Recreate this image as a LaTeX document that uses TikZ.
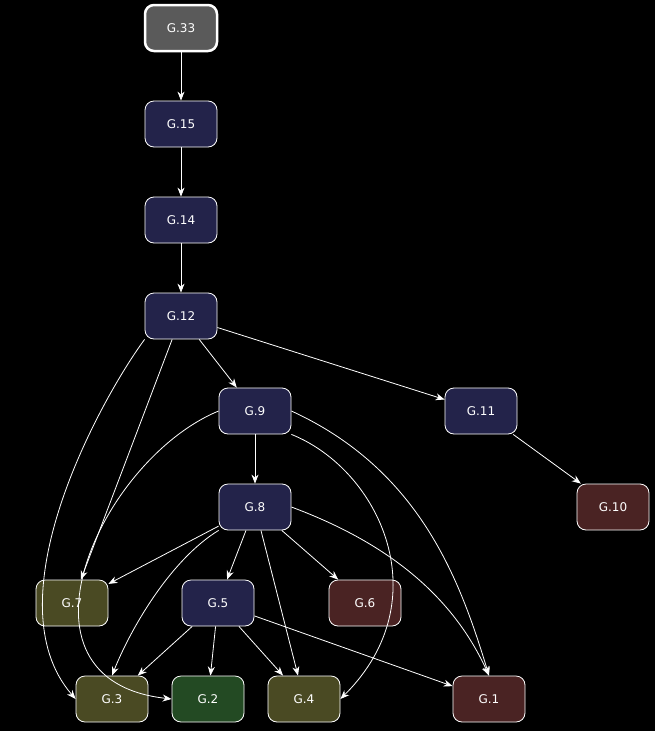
\documentclass[tikz,border=0pt]{standalone}
\usepackage{fontspec}
\setmainfont{DejaVu Sans}
\usetikzlibrary{arrows.meta}
\definecolor{navy}{HTML}{23234A}
\definecolor{dred}{HTML}{4A2323}
\definecolor{olive}{HTML}{4A4A23}
\definecolor{dgreen}{HTML}{234A23}
\definecolor{grey}{HTML}{5A5A5A}
\begin{document}
\begin{tikzpicture}[x=1pt,y=-1pt,
 nd/.style={draw=white,rounded corners=9pt,minimum width=72pt,minimum height=46pt,text=white,font=\fontsize{12}{14}\selectfont,line width=0.8pt},
 ed/.style={draw=white,line width=0.8pt,-{Stealth[length=9pt,width=7pt]}}]
\fill[black] (0,0) rectangle (655,731);
\useasboundingbox (0,0) rectangle (655,731);
\node[nd,fill=grey,line width=2.5pt] (g33) at (181,28) {G.33};
\node[nd,fill=navy] (g15) at (181,124) {G.15};
\node[nd,fill=navy] (g14) at (181,220) {G.14};
\node[nd,fill=navy] (g12) at (181,316) {G.12};
\node[nd,fill=navy] (g9) at (255,411) {G.9};
\node[nd,fill=navy] (g11) at (481,411) {G.11};
\node[nd,fill=dred] (g10) at (613,507) {G.10};
\node[nd,fill=navy] (g8) at (255,507) {G.8};
\node[nd,fill=olive] (g7) at (72,603) {G.7};
\node[nd,fill=navy] (g5) at (218,603) {G.5};
\node[nd,fill=dred] (g6) at (365,603) {G.6};
\node[nd,fill=olive] (g3) at (112,699) {G.3};
\node[nd,fill=dgreen] (g2) at (208,699) {G.2};
\node[nd,fill=olive] (g4) at (304,699) {G.4};
\node[nd,fill=dred] (g1) at (489,699) {G.1};
\draw[ed] (g33)--(g15);
\draw[ed] (g15)--(g14);
\draw[ed] (g14)--(g12);
\draw[ed] (g12)--(g9);
\draw[ed] (g12)--(g11);
\draw[ed] (g12)--(g7);
\draw[ed] (g12.south west) .. controls (100,400) and (-10,600) .. (g3.west);
\draw[ed] (g11)--(g10);
\draw[ed] (g9)--(g8);
\draw[ed] (g9.west) .. controls (100,460) and (0,680) .. (g2.west);
\draw[ed] (g9.south east) .. controls (380,470) and (440,600) .. (g4.east);
\draw[ed] (g9.east) .. controls (420,470) and (460,580) .. (g1.north);
\draw[ed] (g8)--(g7);
\draw[ed] (g8)--(g5);
\draw[ed] (g8)--(g6);
\draw[ed] (g8.south west) .. controls (170,560) and (130,630) .. (g3.north);
\draw[ed] (g8)--(g4);
\draw[ed] (g8.east) .. controls (380,540) and (450,590) .. (g1.north);
\draw[ed] (g5)--(g3);
\draw[ed] (g5)--(g2);
\draw[ed] (g5)--(g4);
\draw[ed] (g5)--(g1);
\end{tikzpicture}
\end{document}
